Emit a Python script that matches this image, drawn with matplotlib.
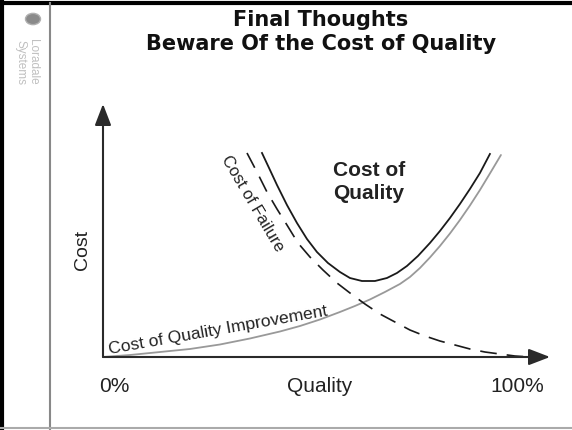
import matplotlib
matplotlib.use('Agg')
import matplotlib.pyplot as plt
from matplotlib.lines import Line2D
from matplotlib.patches import Circle

# quality (%) and cost (arbitrary units)
q_total = [37.95, 39.86, 41.53, 43.91, 46.30, 48.69, 51.07, 53.70, 56.56, 58.95, 61.81, 64.92,
           67.78, 70.17, 72.55, 75.18, 78.04, 80.43, 82.82, 85.20, 87.59, 89.98, 92.36]
c_total = [78.46, 71.92, 66.15, 58.46, 51.54, 45.38, 40.38, 36.15, 32.69, 30.38, 29.23, 29.23,
           30.38, 32.31, 35.00, 38.85, 43.85, 48.46, 53.46, 58.85, 64.62, 70.77, 78.08]

q_improve = [0, 6.44, 13.60, 20.76, 27.92, 35.08, 42.24, 47.02, 51.79, 56.56, 60.14, 63.72,
             67.30, 70.88, 73.27, 75.66, 78.04, 80.43, 82.82, 85.20, 87.59, 89.98, 92.36, 94.99]
c_improve = [0, 0.77, 1.92, 3.08, 4.81, 7.12, 9.81, 11.92, 14.42, 17.31, 19.62, 22.12,
             25.00, 28.08, 30.77, 34.23, 38.27, 42.69, 47.50, 52.69, 58.27, 64.23, 70.58, 77.69]

q_fail = [34.37, 36.75, 39.14, 41.53, 43.91, 46.54, 49.40, 52.51, 55.85, 58.95, 62.53, 66.11,
          69.69, 73.27, 76.85, 80.43, 84.01, 87.59, 91.17, 94.75, 98.33, 101.91, 105.49]
c_fail = [78.46, 71.15, 63.46, 56.92, 50.77, 43.85, 38.46, 33.46, 28.46, 24.62, 20.38, 16.54,
          13.46, 10.38, 8.08, 6.15, 4.62, 3.08, 1.92, 1.15, 0.38, 0, 0]

title = 'Final Thoughts\nBeware Of the Cost of Quality'
x_ticks = ['0%', 'Quality', '100%']

W, H = 572, 430
fig = plt.figure(figsize=(W / 100, H / 100), dpi=100)
fig.patch.set_facecolor('white')

def fx(px):
    return px / W

def fy(py):
    return 1 - py / H

# frame lines of the slide
fig.add_artist(Line2D([0, 1], [fy(3), fy(3)], color='black', lw=3))
fig.add_artist(Line2D([fx(2), fx(2)], [0, 1], color='black', lw=3))
fig.add_artist(Line2D([fx(50), fx(50)], [0, fy(3)], color='#888888', lw=1.5))
fig.add_artist(Line2D([0, 1], [fy(428), fy(428)], color='#aaaaaa', lw=1.5))

# logo in the sidebar
fig.add_artist(Circle((fx(33), fy(19)), 7.5 / W, transform=fig.transFigure,
                      facecolor='#8a8a8a', edgecolor='#b0b0b0', lw=1))
fig.text(fx(27), fy(62), 'Loradale\nSystems', rotation=-90, fontsize=8.5,
         color='#c0c0c0', ha='center', va='center', family='Liberation Sans',
         linespacing=1.1)

fig.text(fx(321), fy(32), title, ha='center', va='center', fontsize=15,
         fontweight='bold', family='DejaVu Sans', color='#111111', linespacing=1.3)

ax = fig.add_axes([fx(103), fy(357), fx(550) - fx(103), fy(104) - fy(357)])
ax.set_xlim(0, 106.7)
ax.set_ylim(0, 97.3)
ax.axis('off')

ax.plot(q_improve, c_improve, color='#999999', lw=1.3, solid_capstyle='round')
ax.plot(q_total, c_total, color='#1a1a1a', lw=1.3)
ax.plot(q_fail, c_fail, color='#1a1a1a', lw=1.2, dashes=(10, 6))

arrow = dict(arrowstyle='-|>,head_length=1.3,head_width=0.5', color='#2a2a2a',
             lw=1.5, shrinkA=0, shrinkB=0, mutation_scale=10)
ax.annotate('', xy=(1, 0), xytext=(0, 0), xycoords='axes fraction', arrowprops=arrow)
ax.annotate('', xy=(0, 1), xytext=(0, 0), xycoords='axes fraction', arrowprops=arrow)

ax.text(27.5, 10.4, 'Cost of Quality Improvement', rotation=10, ha='center',
        va='center', fontsize=12.6, family='Liberation Sans', color='#222222',
        rotation_mode='anchor')
ax.text(35.6, 59.2, 'Cost of Failure', rotation=-59.5, ha='center', va='center',
        fontsize=12, family='Liberation Sans', color='#222222', rotation_mode='anchor')
ax.text(63.5, 67.3, 'Cost of\nQuality', ha='center', va='center', fontsize=15,
        fontweight='bold', family='Liberation Sans', color='#222222', linespacing=1.25)

fig.text(fx(83), fy(250), 'Cost', rotation=90, ha='center', va='center',
         fontsize=14, family='Liberation Sans', color='#222222')
for px, lab in zip([114, 320, 517], x_ticks):
    fig.text(fx(px), fy(386), lab, ha='center', va='center', fontsize=15,
             family='Liberation Sans', color='#222222')

fig.savefig('out.png', dpi=100)
